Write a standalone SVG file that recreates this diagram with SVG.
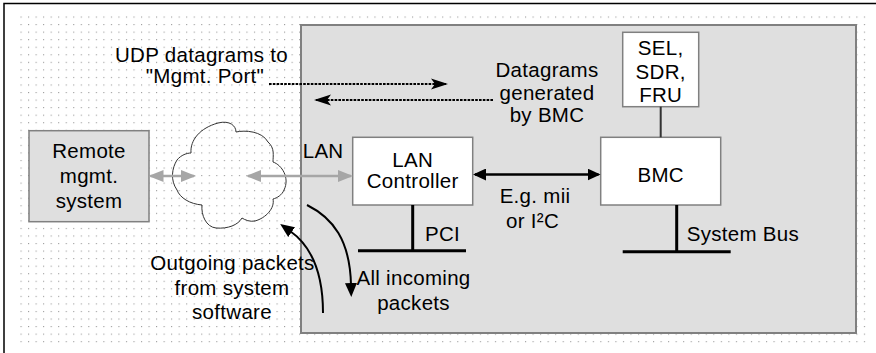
<svg xmlns="http://www.w3.org/2000/svg" width="876" height="353" viewBox="0 0 876 353">
<style>
text{font-family:"Liberation Sans",Arial,sans-serif;font-size:20.5px;letter-spacing:0.3px;fill:#000}
.m{text-anchor:middle}
.box{stroke:#808080;stroke-width:1.5}
.gray{fill:#dfdfdf}
.white{fill:#fff}
.bus{stroke:#000;stroke-width:3;fill:none}
.dash{stroke:#000;stroke-width:1.8;stroke-dasharray:2.6 1.2;fill:none}
.garr{stroke:#a6a6a6;stroke-width:2.5;fill:none}
.barr{stroke:#000;stroke-width:2.5;fill:none}
.curve{stroke:#000;stroke-width:2;fill:none}
</style>
<defs>
<pattern id="dots" x="20.5" y="16.5" width="7.53" height="7.55" patternUnits="userSpaceOnUse">
<rect width="1.1" height="1.1" fill="#9a9a9a"/>
</pattern>
<marker id="ah" viewBox="0 0 17 12" refX="15" refY="6" markerWidth="17" markerHeight="12" markerUnits="userSpaceOnUse" orient="auto-start-reverse">
<path d="M0,0.5 L17,6 L0,11.5 L4,6 z" fill="#000"/>
</marker>
<marker id="bh" viewBox="0 0 13 12" refX="11" refY="6" markerWidth="13" markerHeight="12" markerUnits="userSpaceOnUse" orient="auto-start-reverse">
<path d="M0,0 L13,6 L0,12 z" fill="#000"/>
</marker>
<marker id="gh" viewBox="0 0 15 12" refX="13" refY="6" markerWidth="15" markerHeight="12" markerUnits="userSpaceOnUse" orient="auto-start-reverse">
<path d="M0,0 L15,6 L0,12 z" fill="#a6a6a6"/>
</marker>
<marker id="ch" viewBox="0 0 14 12" refX="2" refY="6" markerWidth="14" markerHeight="12" markerUnits="userSpaceOnUse" orient="auto">
<path d="M0,0 L14,6 L0,12 z" fill="#000"/>
</marker>
</defs>

<rect width="876" height="353" fill="#fff"/>
<rect x="19" y="15" width="848" height="329" fill="url(#dots)"/>
<path d="M4,353 V3.5 H876" stroke="#000" stroke-width="1.5" fill="none"/>

<g id="system">
<rect x="301" y="25" width="555" height="308" class="gray" stroke="#808080" stroke-width="2"/>
</g>

<g id="remote">
<rect x="29" y="130.7" width="120" height="91" class="box gray"/>
<text x="89" y="158.3" class="m">Remote</text>
<text x="89" y="183.3" class="m">mgmt.</text>
<text x="89" y="208.3" class="m">system</text>
</g>

<g id="cloud">
<path d="M191,153 C190,140 200,128 218,123 C230,120 236,126 236,132 C245,130 262,131 268,142 C275,148 273,156 273,162 C282,165 290,178 284,190 C282,195 277,198 273,199 C275,208 266,218 255,221 C250,222 245,220 242,218 C238,225 228,229 216,228 C206,227 201,215 202,205 C190,204 180,198 177,190 C170,180 172,168 177,160 C181,155 187,153 191,153 Z" fill="none" stroke="#333" stroke-width="1"/>
</g>

<g id="lanctrl">
<rect x="352.7" y="137.3" width="120" height="67.7" class="box white"/>
<text x="412.7" y="166.7" class="m">LAN</text>
<text x="412.7" y="188.3" class="m">Controller</text>
</g>

<g id="bmc">
<rect x="600.7" y="137.3" width="120" height="67.7" class="box white"/>
<text x="660.7" y="182" class="m">BMC</text>
</g>

<g id="sel">
<rect x="622.7" y="32.3" width="76" height="74.4" class="box white"/>
<text x="660.7" y="55" class="m">SEL,</text>
<text x="660.7" y="79" class="m">SDR,</text>
<text x="660.7" y="102.3" class="m">FRU</text>
</g>

<g id="pcibus">
<path d="M412.7,205 V250.7 M358,250.7 H466" class="bus"/>
<text x="425" y="241">PCI</text>
</g>

<g id="sysbus">
<path d="M676.7,205 V251.7 M622.7,251.7 H730.7" class="bus"/>
<text x="686.7" y="241">System Bus</text>
</g>

<g id="connectors">
<line x1="660.7" y1="106.7" x2="660.7" y2="137.3" stroke="#333" stroke-width="2"/>
<line x1="150.5" y1="176" x2="194" y2="176" class="garr" marker-start="url(#gh)" marker-end="url(#gh)"/>
<line x1="248" y1="176" x2="351" y2="176" class="garr" marker-start="url(#gh)" marker-end="url(#gh)"/>
<line x1="475" y1="174.5" x2="598.5" y2="174.5" class="barr" marker-start="url(#bh)" marker-end="url(#bh)"/>
<line x1="269" y1="84" x2="446" y2="84" class="dash" marker-end="url(#ah)"/>
<line x1="493" y1="100" x2="316" y2="100" class="dash" marker-end="url(#ah)"/>
<path d="M307,205 C333,218 350,240 351,285" class="curve" marker-end="url(#ch)"/>
<path d="M323,313 C323,270 310,245 290,231" class="curve" marker-end="url(#ch)"/>
</g>

<g id="labels">
<text x="201.5" y="61.5" class="m">UDP datagrams to</text>
<text x="205" y="83.3" class="m">"Mgmt. Port"</text>
<text x="547" y="77.3" class="m">Datagrams</text>
<text x="547" y="100" class="m">generated</text>
<text x="547" y="122.3" class="m">by BMC</text>
<text x="302.7" y="158.3">LAN</text>
<text x="535" y="203.3" class="m">E.g. mii</text>
<text x="532.5" y="228.3" class="m">or I²C</text>
<text x="413.5" y="285" class="m">All incoming</text>
<text x="413.5" y="310" class="m">packets</text>
<text x="232.5" y="270" class="m">Outgoing packets</text>
<text x="232" y="294.5" class="m">from system</text>
<text x="232" y="318.5" class="m">software</text>
</g>
</svg>
